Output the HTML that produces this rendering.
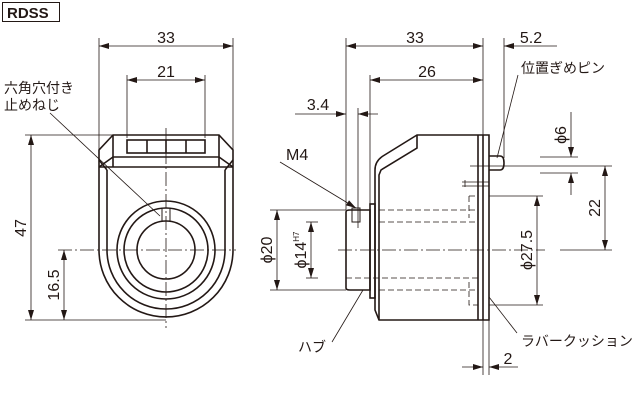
<!DOCTYPE html>
<html><head><meta charset="utf-8"><style>
body{margin:0;background:#fff}
svg{display:block}
text{font-family:"Liberation Sans","Noto Sans CJK JP",sans-serif;fill:#231815}
</style></head><body>
<svg width="642" height="411" viewBox="0 0 642 411" xmlns="http://www.w3.org/2000/svg">
<defs>
<marker id="a" viewBox="0 0 10 6" refX="10" refY="3" markerWidth="10" markerHeight="6" orient="auto-start-reverse" markerUnits="userSpaceOnUse"><path d="M0,0L10,3L0,6z" fill="#231815"/></marker>
</defs>
<g stroke="#231815" fill="none">
<rect x="2.5" y="2.5" width="57" height="19" stroke-width="1"/>
</g>
<text x="7" y="18" font-size="15" font-weight="bold">RDSS</text>

<!-- LEFT VIEW -->
<g stroke="#231815" fill="none" stroke-width="0.8">
<line x1="99" y1="38" x2="99" y2="150"/>
<line x1="233" y1="38" x2="233" y2="150"/>
<line x1="99" y1="46" x2="233" y2="46" marker-start="url(#a)" marker-end="url(#a)"/>
<line x1="127" y1="75" x2="127" y2="138"/>
<line x1="205" y1="75" x2="205" y2="138"/>
<line x1="127" y1="80" x2="205" y2="80" marker-start="url(#a)" marker-end="url(#a)"/>
<line x1="25" y1="135" x2="113" y2="135"/>
<line x1="25" y1="320" x2="166" y2="320"/>
<line x1="31" y1="135" x2="31" y2="320" marker-start="url(#a)" marker-end="url(#a)"/>
<line x1="64" y1="250" x2="64" y2="320" marker-start="url(#a)" marker-end="url(#a)"/>
<line x1="58" y1="250" x2="236" y2="250" stroke-dasharray="14 3 2 3"/>
<line x1="166" y1="128" x2="166" y2="328" stroke-dasharray="14 3 2 3"/>
<line x1="50" y1="113" x2="160" y2="216"/>
</g>
<g stroke="#231815" fill="none" stroke-width="1.6">
<path d="M113,135 L219,135 L233,150 L233,250 A67,67 0 0 1 99,250 L99,150 Z"/>
<path d="M107,170 L107,250 A59,59 0 0 0 225,250 L225,170"/>
<line x1="113" y1="135" x2="113" y2="167"/>
<line x1="219" y1="135" x2="219" y2="167"/>
<line x1="113" y1="157" x2="219" y2="157"/>
<line x1="99" y1="167" x2="233" y2="167"/>
<line x1="99" y1="160" x2="107" y2="170"/>
<line x1="233" y1="160" x2="225" y2="170"/>
<line x1="99" y1="167" x2="113" y2="157"/>
<line x1="233" y1="167" x2="219" y2="157"/>
<rect x="127" y="140" width="78" height="13"/>
<line x1="147" y1="140" x2="147" y2="153"/>
<line x1="166" y1="140" x2="166" y2="153"/>
<line x1="186" y1="140" x2="186" y2="153"/>
<circle cx="166" cy="250" r="49"/>
<circle cx="166" cy="250" r="42"/>
<circle cx="166" cy="250" r="29"/>
<rect x="162" y="208" width="8" height="13" stroke-width="1"/>
</g>
<text x="166" y="43" font-size="16" text-anchor="middle">33</text>
<text x="166" y="77" font-size="16" text-anchor="middle">21</text>
<text transform="translate(26,228) rotate(-90)" font-size="16" text-anchor="middle">47</text>
<text transform="translate(59,285) rotate(-90)" font-size="16" text-anchor="middle">16.5</text>
<text x="4" y="93" font-size="14">六角穴付き</text>
<text x="4" y="110" font-size="14">止めねじ</text>

<!-- RIGHT VIEW -->
<g stroke="#231815" fill="none" stroke-width="0.8">
<line x1="346" y1="38" x2="346" y2="210"/>
<line x1="483" y1="38" x2="483" y2="375"/>
<line x1="346" y1="46" x2="483" y2="46" marker-start="url(#a)" marker-end="url(#a)"/>
<line x1="504" y1="38" x2="504" y2="158"/>
<line x1="504" y1="46" x2="557" y2="46" marker-start="url(#a)"/>
<line x1="370" y1="75" x2="370" y2="205"/>
<line x1="370" y1="80" x2="483" y2="80" marker-start="url(#a)" marker-end="url(#a)"/>
<line x1="295" y1="114" x2="346" y2="114" marker-end="url(#a)"/>
<line x1="358" y1="114" x2="378" y2="114" marker-start="url(#a)"/>
<line x1="358" y1="108" x2="358" y2="228"/>
<line x1="338" y1="250" x2="545" y2="250" stroke-dasharray="14 3 2 3"/>
<line x1="270" y1="210" x2="346" y2="210"/>
<line x1="270" y1="290" x2="346" y2="290"/>
<line x1="277" y1="210" x2="277" y2="290" marker-start="url(#a)" marker-end="url(#a)"/>
<line x1="306" y1="222" x2="318" y2="222"/>
<line x1="306" y1="278" x2="318" y2="278"/>
<line x1="311" y1="222" x2="311" y2="278" marker-start="url(#a)" marker-end="url(#a)"/>
<line x1="489" y1="196" x2="543" y2="196"/>
<line x1="489" y1="305" x2="543" y2="305"/>
<line x1="537" y1="196" x2="537" y2="305" marker-start="url(#a)" marker-end="url(#a)"/>
<line x1="540" y1="157" x2="578" y2="157"/>
<line x1="540" y1="173" x2="578" y2="173"/>
<line x1="571" y1="112" x2="571" y2="157" marker-end="url(#a)"/>
<line x1="571" y1="173" x2="571" y2="195" marker-start="url(#a)"/>
<line x1="470" y1="166" x2="612" y2="166"/>
<line x1="560" y1="250" x2="612" y2="250"/>
<line x1="605" y1="166" x2="605" y2="250" marker-start="url(#a)" marker-end="url(#a)"/>
<line x1="489" y1="300" x2="489" y2="375"/>
<line x1="462" y1="367" x2="483" y2="367" marker-end="url(#a)"/>
<line x1="489" y1="367" x2="518" y2="367" marker-start="url(#a)"/>
<line x1="280" y1="162" x2="356" y2="208" marker-end="url(#a)"/>
<line x1="518" y1="75" x2="497" y2="158"/>
<line x1="517" y1="333" x2="489" y2="297"/>
<line x1="332" y1="342" x2="363" y2="290"/>
<g stroke-dasharray="6 3">
<line x1="379" y1="210" x2="478" y2="210"/>
<line x1="379" y1="222" x2="478" y2="222"/>
<line x1="346" y1="278" x2="478" y2="278"/>
<line x1="379" y1="290" x2="478" y2="290"/>
<path d="M469,196 L478,196 M469,196 L469,218 M469,282 L469,305 L478,305"/>
</g>
<path d="M465,180 L465,187 M462,182 L489,182 M462,186 L489,186"/>
</g>
<g stroke="#231815" fill="none" stroke-width="1.6">
<path d="M417,135 L489,135 L489,320 L379,320 L375,310 L375,170 Q375,161 383,156 Z"/>
<path d="M417,135 L417,148 L381,170 L379,175 L379,320"/>
<line x1="478" y1="135" x2="478" y2="320"/>
<line x1="483" y1="135" x2="483" y2="320"/>
<path d="M346,212 Q346,210 350,210 L370,210 L370,290 L350,290 Q346,290 346,288 Z"/>
<rect x="370" y="204" width="5" height="94"/>
<path d="M489,156 L500,156 Q504,156 504,163 Q504,170 500,170 L489,170"/>
<rect x="352" y="208" width="8" height="14" stroke-width="1"/>
</g>
<text x="415" y="43" font-size="16" text-anchor="middle">33</text>
<text x="531" y="43" font-size="16" text-anchor="middle">5.2</text>
<text x="427" y="77" font-size="16" text-anchor="middle">26</text>
<text x="318" y="110" font-size="16" text-anchor="middle">3.4</text>
<text x="286" y="160" font-size="16">M4</text>
<text x="521" y="73" font-size="14">位置ぎめピン</text>
<text x="521" y="346" font-size="14">ラバークッション</text>
<text x="298" y="352" font-size="14">ハブ</text>
<text x="508" y="364" font-size="16" text-anchor="middle">2</text>
<text transform="translate(272,250) rotate(-90)" font-size="16" text-anchor="middle">ϕ20</text>
<text transform="translate(306,250) rotate(-90)" font-size="16" text-anchor="middle">ϕ14<tspan font-size="8" dy="-7">H7</tspan></text>
<text transform="translate(532,250) rotate(-90)" font-size="16" text-anchor="middle">ϕ27.5</text>
<text transform="translate(566,135) rotate(-90)" font-size="16" text-anchor="middle">ϕ6</text>
<text transform="translate(600,208) rotate(-90)" font-size="16" text-anchor="middle">22</text>
</svg>
</body></html>
